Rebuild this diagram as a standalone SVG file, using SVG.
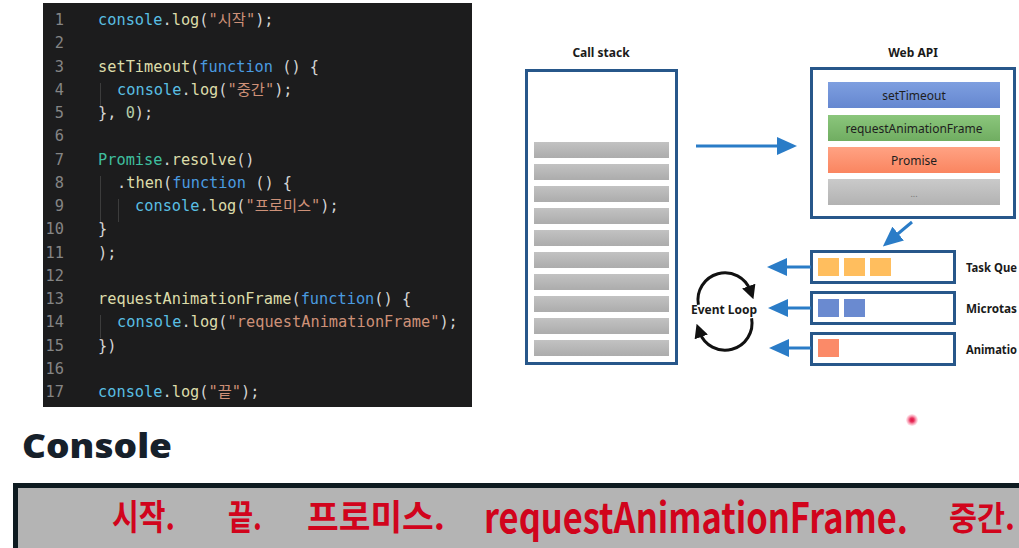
<svg xmlns="http://www.w3.org/2000/svg" width="1019" height="548" viewBox="0 0 1019 548">
<style>
.code{font-family:"DejaVu Sans Mono","Noto Sans CJK KR",monospace;font-size:15.3px;white-space:pre}
.ln{fill:#858585;text-anchor:end}
.c{fill:#59bfe3}.f{fill:#dcdcaa}.p{fill:#d4d4d4}.s{fill:#ce9178}.k{fill:#4a9be0}.t{fill:#3fbf9f}.n{fill:#b5cea8}
.guide{stroke:#3c3c3c;stroke-width:1}
.lbl{font-family:"Noto Sans","Noto Sans CJK KR",sans-serif;font-size:12px;font-weight:bold;fill:#1a1a1a}
.item{font-family:"Noto Sans","Noto Sans CJK KR",sans-serif;font-size:12px;fill:#1e1e1e;text-anchor:middle}
.box{fill:#ffffff;stroke:#27578a;stroke-width:3}
.bar{fill:url(#gbar)}
.arr{stroke:#2a7cc7;stroke-width:3;fill:none;marker-end:url(#ah)}
.loop{stroke:#111;stroke-width:3;fill:none;marker-end:url(#bh)}
.out{font-family:"Noto Sans CJK KR","Noto Sans",sans-serif;font-weight:bold;fill:#d1041c}
</style>
<defs>
<linearGradient id="gbar" x1="0" y1="0" x2="0" y2="1"><stop offset="0" stop-color="#c2c2c2"/><stop offset="1" stop-color="#acacac"/></linearGradient>
<linearGradient id="gblue" x1="0" y1="0" x2="0" y2="1"><stop offset="0" stop-color="#7e9fe0"/><stop offset="1" stop-color="#6587d0"/></linearGradient>
<linearGradient id="ggreen" x1="0" y1="0" x2="0" y2="1"><stop offset="0" stop-color="#8bc67c"/><stop offset="1" stop-color="#70ad61"/></linearGradient>
<linearGradient id="gred" x1="0" y1="0" x2="0" y2="1"><stop offset="0" stop-color="#ffa283"/><stop offset="1" stop-color="#fa8560"/></linearGradient>
<linearGradient id="ggray" x1="0" y1="0" x2="0" y2="1"><stop offset="0" stop-color="#cacaca"/><stop offset="1" stop-color="#b2b2b2"/></linearGradient>
<radialGradient id="gdot"><stop offset="0" stop-color="#e01040"/><stop offset="0.35" stop-color="#e83560"/><stop offset="1" stop-color="#ff8fa8" stop-opacity="0.2"/></radialGradient>
<marker id="ah" markerUnits="userSpaceOnUse" viewBox="0 0 20 18" refX="10" refY="9" markerWidth="20" markerHeight="18" orient="auto"><path d="M0,0 L20,9 L0,18 z" fill="#2a7cc7"/></marker>
<marker id="bh" markerUnits="userSpaceOnUse" viewBox="0 0 14 14" refX="5" refY="7" markerWidth="14" markerHeight="14" orient="auto"><path d="M0,0 L14,7 L0,14 z" fill="#111"/></marker>
</defs>
<rect width="1019" height="548" fill="#ffffff"/>

<g id="code-panel">
<rect x="43" y="3" width="429" height="404" fill="#1c1c1d"/>
<line class="guide" x1="100.5" y1="83" x2="100.5" y2="106"/>
<line class="guide" x1="100.5" y1="176" x2="100.5" y2="222"/>
<line class="guide" x1="118.5" y1="199" x2="118.5" y2="222"/>
<line class="guide" x1="100.5" y1="315" x2="100.5" y2="338"/>
<g class="code">
<text class="ln" x="64" y="25">1</text>
<text class="ln" x="64" y="48.25">2</text>
<text class="ln" x="64" y="71.5">3</text>
<text class="ln" x="64" y="94.75">4</text>
<text class="ln" x="64" y="118">5</text>
<text class="ln" x="64" y="141.25">6</text>
<text class="ln" x="64" y="164.5">7</text>
<text class="ln" x="64" y="187.75">8</text>
<text class="ln" x="64" y="211">9</text>
<text class="ln" x="64" y="234.25">10</text>
<text class="ln" x="64" y="257.5">11</text>
<text class="ln" x="64" y="280.75">12</text>
<text class="ln" x="64" y="304">13</text>
<text class="ln" x="64" y="327.25">14</text>
<text class="ln" x="64" y="350.5">15</text>
<text class="ln" x="64" y="373.75">16</text>
<text class="ln" x="64" y="397">17</text>

<text x="98" y="25"><tspan class="c">console</tspan><tspan class="p">.</tspan><tspan class="f">log</tspan><tspan class="p">(</tspan><tspan class="s">"시작"</tspan><tspan class="p">);</tspan></text>
<text x="98" y="71.5"><tspan class="f">setTimeout</tspan><tspan class="p">(</tspan><tspan class="k">function</tspan><tspan class="p"> () {</tspan></text>
<text x="117" y="94.75"><tspan class="c">console</tspan><tspan class="p">.</tspan><tspan class="f">log</tspan><tspan class="p">(</tspan><tspan class="s">"중간"</tspan><tspan class="p">);</tspan></text>
<text x="98" y="118"><tspan class="p">}, </tspan><tspan class="n">0</tspan><tspan class="p">);</tspan></text>
<text x="98" y="164.5"><tspan class="t">Promise</tspan><tspan class="p">.</tspan><tspan class="f">resolve</tspan><tspan class="p">()</tspan></text>
<text x="117" y="187.75"><tspan class="p">.</tspan><tspan class="f">then</tspan><tspan class="p">(</tspan><tspan class="k">function</tspan><tspan class="p"> () {</tspan></text>
<text x="135" y="211"><tspan class="c">console</tspan><tspan class="p">.</tspan><tspan class="f">log</tspan><tspan class="p">(</tspan><tspan class="s">"프로미스"</tspan><tspan class="p">);</tspan></text>
<text x="98" y="234.25" class="p">}</text>
<text x="98" y="257.5" class="p">);</text>
<text x="98" y="304"><tspan class="f">requestAnimationFrame</tspan><tspan class="p">(</tspan><tspan class="k">function</tspan><tspan class="p">() {</tspan></text>
<text x="117" y="327.25"><tspan class="c">console</tspan><tspan class="p">.</tspan><tspan class="f">log</tspan><tspan class="p">(</tspan><tspan class="s">"requestAnimationFrame"</tspan><tspan class="p">);</tspan></text>
<text x="98" y="350.5" class="p">})</text>
<text x="98" y="397"><tspan class="c">console</tspan><tspan class="p">.</tspan><tspan class="f">log</tspan><tspan class="p">(</tspan><tspan class="s">"끝"</tspan><tspan class="p">);</tspan></text>
</g>
</g>

<g id="call-stack">
<text class="lbl" x="601" y="57" text-anchor="middle">Call stack</text>
<rect class="box" x="526.5" y="70.5" width="150" height="293"/>
<rect class="bar" x="534" y="142" width="135" height="16"/>
<rect class="bar" x="534" y="164" width="135" height="16"/>
<rect class="bar" x="534" y="186" width="135" height="16"/>
<rect class="bar" x="534" y="208" width="135" height="16"/>
<rect class="bar" x="534" y="230" width="135" height="16"/>
<rect class="bar" x="534" y="252" width="135" height="16"/>
<rect class="bar" x="534" y="274" width="135" height="16"/>
<rect class="bar" x="534" y="296" width="135" height="16"/>
<rect class="bar" x="534" y="318" width="135" height="16"/>
<rect class="bar" x="534" y="340" width="135" height="16"/>
</g>

<g id="web-api">
<text class="lbl" x="913" y="57" text-anchor="middle">Web API</text>
<rect class="box" x="811.5" y="68.5" width="203" height="149"/>
<rect x="828" y="82" width="172" height="26" fill="url(#gblue)"/>
<text class="item" x="914" y="99.5">setTimeout</text>
<rect x="828" y="115" width="172" height="26" fill="url(#ggreen)"/>
<text class="item" x="914" y="132.5">requestAnimationFrame</text>
<rect x="828" y="147" width="172" height="26" fill="url(#gred)"/>
<text class="item" x="914" y="164.5">Promise</text>
<rect x="828" y="179" width="172" height="26" fill="url(#ggray)"/>
<text class="item" x="914" y="197" style="font-size:9px;fill:#777">...</text>
</g>

<g id="task-queue">
<rect class="box" x="811.5" y="251.5" width="143" height="31"/>
<rect x="818" y="258" width="21" height="18" fill="#ffbe5e"/>
<rect x="844" y="258" width="21" height="18" fill="#ffbe5e"/>
<rect x="870" y="258" width="21" height="18" fill="#ffbe5e"/>
<text class="lbl" x="966" y="272" textLength="51" lengthAdjust="spacingAndGlyphs">Task Que</text>
</g>

<g id="microtask-queue">
<rect class="box" x="811.5" y="292.5" width="143" height="31"/>
<rect x="818" y="299" width="21" height="18" fill="#6a8ad0"/>
<rect x="844" y="299" width="21" height="18" fill="#6a8ad0"/>
<text class="lbl" x="966" y="313" textLength="51" lengthAdjust="spacingAndGlyphs">Microtas</text>
</g>

<g id="animation-frames">
<rect class="box" x="811.5" y="333.5" width="143" height="31"/>
<rect x="818" y="339" width="21" height="18" fill="#fb8a68"/>
<text class="lbl" x="966" y="354" textLength="51" lengthAdjust="spacingAndGlyphs">Animatio</text>
</g>

<g id="event-loop">
<text class="lbl" x="724" y="314" text-anchor="middle">Event Loop</text>
<path class="loop" d="M698.4,304.7 A27,27 0 0 1 750.4,290.8"/>
<path class="loop" d="M751.6,318.3 A27,27 0 0 1 699.6,332.2"/>
</g>

<g id="connectors">
<line class="arr" x1="696" y1="146" x2="787" y2="146"/>
<line class="arr" x1="912" y1="222" x2="890.5" y2="240"/>
<line class="arr" x1="811" y1="267" x2="777" y2="267"/>
<line class="arr" x1="811" y1="308" x2="778" y2="308"/>
<line class="arr" x1="811" y1="348" x2="779" y2="348"/>
</g>

<g id="console">
<text x="22" y="458" font-family="'Noto Sans','Noto Sans CJK KR',sans-serif" font-weight="900" font-size="33" fill="#16202a" textLength="150" lengthAdjust="spacingAndGlyphs">Console</text>
<rect x="15.5" y="485.5" width="1012" height="80" fill="#b4b4b4" stroke="#0e1b21" stroke-width="5"/>
<text class="out" transform="translate(112,530) scale(1,1.15)" font-size="31" textLength="63" lengthAdjust="spacingAndGlyphs">시작.</text>
<text class="out" transform="translate(228,530) scale(1,1.15)" font-size="31" textLength="34" lengthAdjust="spacingAndGlyphs">끝.</text>
<text class="out" transform="translate(307,530) scale(1,1.15)" font-size="31" textLength="138" lengthAdjust="spacingAndGlyphs">프로미스.</text>
<text class="out" transform="translate(484,533) scale(1,1.12)" font-size="37" textLength="424" lengthAdjust="spacingAndGlyphs">requestAnimationFrame.</text>
<text class="out" transform="translate(949,530) scale(1,1.15)" font-size="29" textLength="66" lengthAdjust="spacingAndGlyphs">중간.</text>
</g>

<circle cx="912" cy="420" r="6" fill="url(#gdot)"/>
</svg>
